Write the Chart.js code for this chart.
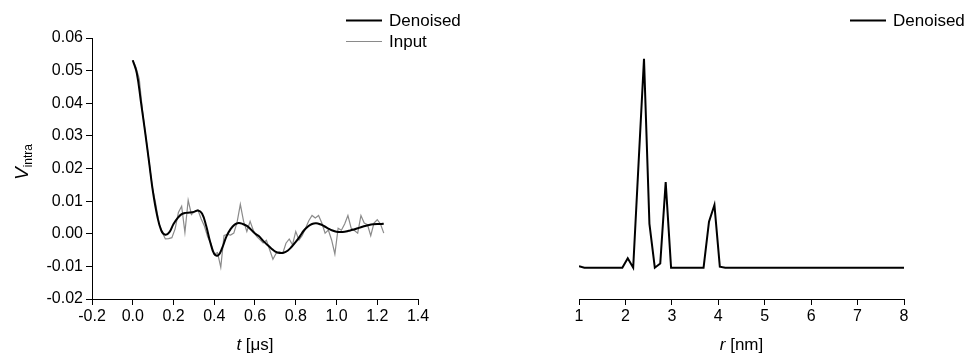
<!DOCTYPE html>
<html lang="en">
<head>
<meta charset="UTF-8">
<title>Denoised trace and distance distribution</title>
<script src="https://cdn.jsdelivr.net/npm/chart.js"></script>
<style>
  body { margin: 0; background: #fff; }
  #wrap { position: relative; width: 969px; height: 358px; }
  canvas { position: absolute; top: 0; }
  #leftChart { left: 0; }
  #rightChart { left: 470px; }
</style>
</head>
<body>
<div id="wrap">
  <canvas id="leftChart" width="470" height="358"></canvas>
  <canvas id="rightChart" width="499" height="358"></canvas>
</div>
<script>
// input trace, t in us
const tInput = [0, 0.016, 0.032, 0.048, 0.064, 0.08, 0.096, 0.112, 0.128, 0.144, 0.16, 0.176, 0.192, 0.208, 0.224, 0.24,
  0.256, 0.272, 0.288, 0.304, 0.32, 0.336, 0.352, 0.368, 0.384, 0.4, 0.416, 0.432, 0.448, 0.464, 0.48, 0.496,
  0.512, 0.528, 0.544, 0.56, 0.576, 0.592, 0.608, 0.624, 0.64, 0.656, 0.672, 0.688, 0.704, 0.72, 0.736, 0.752,
  0.768, 0.784, 0.8, 0.816, 0.832, 0.848, 0.864, 0.88, 0.896, 0.912, 0.928, 0.944, 0.96, 0.976, 0.992, 1.008,
  1.024, 1.04, 1.056, 1.072, 1.088, 1.104, 1.12, 1.136, 1.152, 1.168, 1.184, 1.2, 1.216, 1.232];
const vInput = [0.0532, 0.0510, 0.0475, 0.0375, 0.0298, 0.0222, 0.0142, 0.0095, 0.0035, 0.0005, -0.0016, -0.0015,
  -0.0012, 0.0015, 0.0065, 0.0084, 0.0004, 0.0103, 0.0059, 0.0069, 0.0073, 0.0045, 0.0023, -0.0010,
  -0.0030, -0.0062, -0.0058, -0.0103, -0.0005, -0.0002, -0.0004, 0.0002, 0.0035, 0.0090, 0.0038, 0.0007,
  0.0038, 0.0010, -0.0008, -0.0018, -0.0028, -0.0020, -0.0049, -0.0078, -0.0060, -0.0055, -0.0060, -0.0029,
  -0.0016, -0.0034, 0.0007, -0.0019, -0.0005, 0.0017, 0.0040, 0.0056, 0.0048, 0.0056, 0.0033, 0.0002,
  0.0011, -0.0019, -0.0062, 0.0017, 0.0011, 0.0030, 0.0056, 0.0017, 0.0010, 0.0002, 0.0056, 0.0033,
  0.0028, -0.0006, 0.0033, 0.0043, 0.0030, 0.0002];

// denoised trace
const tDenoised = [0, 0.02, 0.04, 0.06, 0.08, 0.1, 0.12, 0.14, 0.16, 0.18, 0.2, 0.22, 0.24, 0.26, 0.28, 0.3,
  0.32, 0.34, 0.36, 0.38, 0.4, 0.42, 0.44, 0.46, 0.48, 0.5, 0.52, 0.54, 0.56, 0.58, 0.6, 0.62,
  0.64, 0.66, 0.68, 0.7, 0.72, 0.74, 0.76, 0.78, 0.8, 0.82, 0.84, 0.86, 0.88, 0.9, 0.92, 0.94,
  0.96, 0.98, 1.0, 1.02, 1.04, 1.06, 1.08, 1.1, 1.12, 1.14, 1.16, 1.18, 1.2, 1.22, 1.232];
const vDenoised = [0.0532, 0.0492, 0.0405, 0.0315, 0.0220, 0.0125, 0.0055, 0.0010, -0.0003, 0.0005, 0.0030, 0.0048,
  0.0060, 0.0064, 0.0065, 0.0067, 0.0071, 0.0062, 0.0025, -0.0025, -0.0062, -0.0066, -0.0042, -0.0008,
  0.0014, 0.0028, 0.0033, 0.0030, 0.0024, 0.0013, 0.0001, -0.0008, -0.0022, -0.0034, -0.0045, -0.0055,
  -0.0059, -0.0058, -0.0052, -0.0040, -0.0025, -0.0008, 0.0010, 0.0022, 0.0030, 0.0032, 0.0029, 0.0023,
  0.0016, 0.0010, 0.0006, 0.0005, 0.0006, 0.0009, 0.0012, 0.0016, 0.0020, 0.0024, 0.0027, 0.0029,
  0.0030, 0.0030, 0.0031];

// distance distribution, r in nm
const rValues = [1, 1.117, 1.233, 1.35, 1.467, 1.583, 1.7, 1.817, 1.933, 2.05, 2.167, 2.283, 2.4, 2.517, 2.633,
  2.75, 2.867, 2.983, 3.1, 3.217, 3.333, 3.45, 3.567, 3.683, 3.8, 3.917, 4.033, 4.15, 4.267, 4.383, 4.5,
  4.617, 4.733, 4.85, 4.967, 5.083, 5.2, 5.317, 5.433, 5.55, 5.667, 5.783, 5.9, 6.017, 6.133, 6.25,
  6.367, 6.483, 6.6, 6.717, 6.833, 6.95, 7.067, 7.183, 7.3, 7.417, 7.533, 7.65, 7.767, 7.883, 8];
const pDenoised = [0.007, 0, 0, 0, 0, 0, 0, 0, 0, 0.045, 0, 0.5, 1.0, 0.21, 0, 0.02, 0.41, 0, 0, 0, 0, 0, 0, 0,
  0.22, 0.30, 0.005, 0, 0, 0, 0, 0, 0, 0, 0, 0, 0, 0, 0, 0, 0, 0, 0, 0, 0, 0, 0, 0, 0, 0, 0, 0, 0, 0,
  0, 0, 0, 0, 0, 0, 0];

const FONT = "'Liberation Sans', Arial, sans-serif";
Chart.defaults.font.family = FONT;
Chart.defaults.color = '#000';

function pts(xs, ys) {
  return xs.map((x, i) => ({ x: x, y: ys[i] }));
}

// draws a row of text pieces (different fonts) centred on x
function drawParts(ctx, parts, x, y) {
  let total = 0;
  parts.forEach(p => { ctx.font = p.font; total += ctx.measureText(p.text).width; });
  let cx = x - total / 2;
  parts.forEach(p => {
    ctx.font = p.font;
    ctx.fillText(p.text, cx, y + (p.dy || 0));
    cx += ctx.measureText(p.text).width;
  });
}

// legend stacked at top right + axis titles
const annotate = {
  id: 'annotate',
  afterDraw(chart, args, opts) {
    const ctx = chart.ctx;
    ctx.save();
    ctx.fillStyle = '#000';
    ctx.textAlign = 'left';
    ctx.textBaseline = 'middle';
    chart.data.datasets.forEach((ds, i) => {
      const y = opts.legendY + i * 21;
      ctx.strokeStyle = ds.borderColor;
      ctx.lineWidth = ds.borderWidth;
      ctx.beginPath();
      ctx.moveTo(opts.legendX, y);
      ctx.lineTo(opts.legendX + 36, y);
      ctx.stroke();
      ctx.font = '17px ' + FONT;
      ctx.fillText(ds.label, opts.legendX + 43, y + 1);
    });
    ctx.textBaseline = 'alphabetic';
    drawParts(ctx, opts.xTitle, opts.xTitleX, 350);
    if (opts.yTitle) {
      ctx.translate(28, 162);
      ctx.rotate(-Math.PI / 2);
      drawParts(ctx, opts.yTitle, 0, 0);
    }
    ctx.restore();
  }
};

function fmt(d) {
  return v => (Math.abs(v) < 1e-9 ? 0 : v).toFixed(d);
}

new Chart(document.getElementById('leftChart'), {
  type: 'line',
  data: {
    datasets: [
      { label: 'Denoised', data: pts(tDenoised, vDenoised), borderColor: '#000', borderWidth: 2,
        pointRadius: 0, tension: 0.4, order: 0 },
      { label: 'Input', data: pts(tInput, vInput), borderColor: '#8a8a8a', borderWidth: 1.2,
        pointRadius: 0, tension: 0, order: 1 }
    ]
  },
  options: {
    responsive: false,
    animation: false,
    devicePixelRatio: 1,
    layout: { padding: { top: 38, right: 52, left: 0, bottom: 0 } },
    plugins: {
      legend: { display: false },
      tooltip: { enabled: false },
      annotate: {
        legendX: 346, legendY: 20.5, xTitleX: 255,
        xTitle: [{ text: 't', font: 'italic 17px ' + FONT }, { text: ' [\u03bcs]', font: '17px ' + FONT }],
        yTitle: [{ text: 'V', font: 'italic 19px ' + FONT }, { text: 'intra', font: '12px ' + FONT, dy: 4 }]
      }
    },
    scales: {
      x: {
        type: 'linear', min: -0.2, max: 1.4,
        ticks: { stepSize: 0.2, callback: fmt(1), font: { size: 16 }, padding: 2, maxRotation: 0 },
        grid: { drawOnChartArea: false, color: '#000', tickLength: 6 },
        border: { color: '#000', width: 1 },
        afterFit(s) { s.height = 59; }
      },
      y: {
        min: -0.02, max: 0.06,
        ticks: { stepSize: 0.01, callback: fmt(2), font: { size: 16 }, padding: 3 },
        grid: { drawOnChartArea: false, color: '#000', tickLength: 6 },
        border: { color: '#000', width: 1 },
        afterFit(s) { s.width = 92; }
      }
    }
  },
  plugins: [annotate]
});

new Chart(document.getElementById('rightChart'), {
  type: 'line',
  data: {
    datasets: [
      { label: 'Denoised', data: pts(rValues, pDenoised), borderColor: '#000', borderWidth: 2,
        pointRadius: 0, tension: 0 }
    ]
  },
  options: {
    responsive: false,
    animation: false,
    devicePixelRatio: 1,
    layout: { padding: { top: 38, right: 65, left: 109, bottom: 0 } },
    plugins: {
      legend: { display: false },
      tooltip: { enabled: false },
      annotate: {
        legendX: 380, legendY: 20.5, xTitleX: 271.5,
        xTitle: [{ text: 'r', font: 'italic 17px ' + FONT }, { text: ' [nm]', font: '17px ' + FONT }]
      }
    },
    scales: {
      x: {
        type: 'linear', min: 1, max: 8,
        ticks: { stepSize: 1, font: { size: 16 }, padding: 2, maxRotation: 0 },
        grid: { drawOnChartArea: false, color: '#000', tickLength: 6 },
        border: { color: '#000', width: 1 },
        afterFit(s) { s.height = 59; }
      },
      y: { display: false, min: -0.15, max: 1.1 }
    }
  },
  plugins: [annotate]
});
</script>
</body>
</html>
